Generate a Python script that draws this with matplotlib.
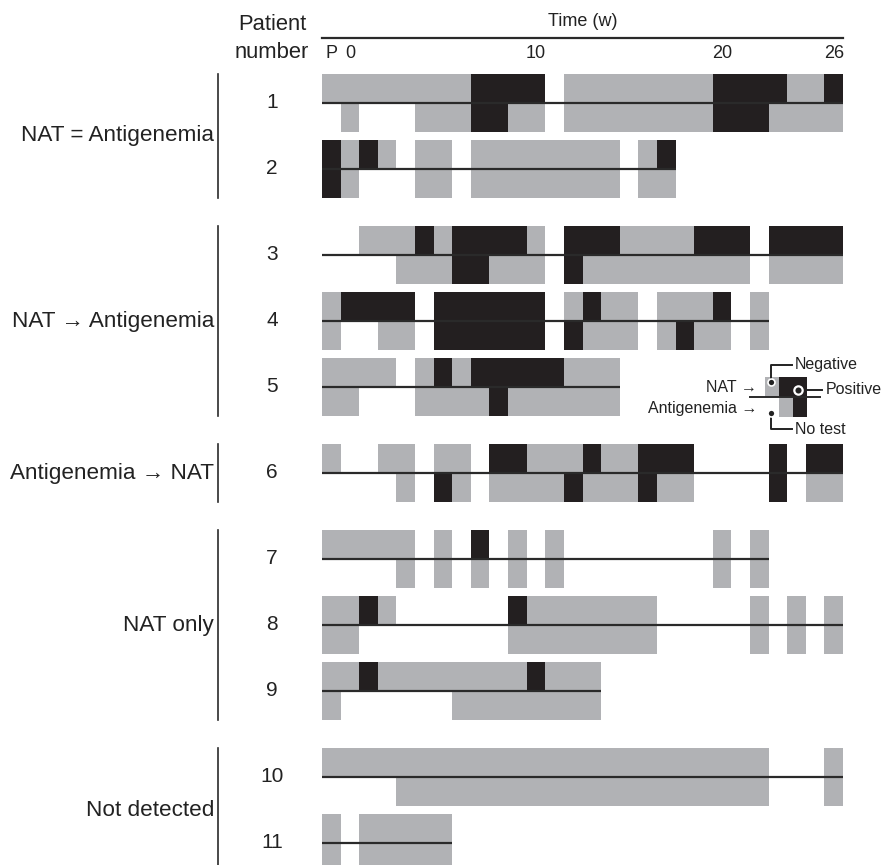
import matplotlib
matplotlib.use("Agg")
import matplotlib.pyplot as plt

plt.rcParams["font.family"] = ["Liberation Sans", "DejaVu Sans"]

# Daten: ein Zeichen pro Woche (P, 0, 1, ..., 26)
# N = negativ, P = positiv, - = kein Test
weeks = ["P"] + [str(w) for w in range(27)]
tick_weeks = ["P", "0", "10", "20", "26"]

patients = ["1", "2", "3", "4", "5", "6", "7", "8", "9", "10", "11"]

nat = [
    "NNNNNNNNPPPP-NNNNNNNNPPPPNNP",
    "PNPN-NN-NNNNNNNN-NP---------",
    "--NNNPNPPPPN-PPPNNNNPPP-PPPP",
    "NPPPP-PPPPPP-NPNN-NNNP-N----",
    "NNNN-NPNPPPPPNNN------------",
    "N--NN-NN-PPNNNPNNPPP----P-PP",
    "NNNNN-N-P-N-N--------N-N----",
    "NNPN------PNNNNNNN-----N-N-N",
    "NNPNNNNNNNNPNNN-------------",
    "NNNNNNNNNNNNNNNNNNNNNNNN---N",
    "N-NNNNN---------------------",
]
antigen = [
    "-N---NNNPPNN-NNNNNNNNPPPNNNN",
    "PN---NN-NNNNNNNN-NN---------",
    "----NNNPPNNN-PNNNNNNNNN-NNNN",
    "N--NN-PPPPPP-PNNN-NPNN-N----",
    "NN---NNNNPNNNNNN------------",
    "----N-PN-NNNNPNNNPNN----P-NN",
    "----N-N-N-N-N--------N-N----",
    "NN--------NNNNNNNN-----N-N-N",
    "N------NNNNNNNN-------------",
    "----NNNNNNNNNNNNNNNNNNNN---N",
    "N-NNNNN---------------------",
]

groups = ["NAT = Antigenemia", "NAT \u2192 Antigenemia", "Antigenemia \u2192 NAT",
          "NAT only", "Not detected"]
group_sizes = [2, 3, 1, 3, 2]

colors = {"N": "#b1b2b5", "P": "#231f20"}

# Layout in Pixeln (Bild 886 x 865)
W, H = 886, 865
x_left, x_right = 322, 843
cell = (x_right - x_left) / len(weeks)
half = 29


def px2w(px):
    return -1.5 + (px - x_left) / cell


fig = plt.figure(figsize=(W / 100, H / 100), dpi=100)
ax = fig.add_axes([0, 0, 1, 1])
ax.set_xlim(px2w(0), px2w(W))
ax.set_ylim(H, 0)
ax.axis("off")

# Zeilenpositionen
centers = []
y = 103
for g, n in enumerate(group_sizes):
    for k in range(n):
        centers.append(y)
        y += 66
    y += 20

# Balken
for i, p in enumerate(patients):
    yc = centers[i]
    for row, y0 in ((nat[i], yc - half), (antigen[i], yc)):
        j = 0
        while j < len(row):
            k = j
            while k < len(row) and row[k] == row[j]:
                k += 1
            if row[j] in colors:
                ax.bar(j - 1.5, half, width=k - j, bottom=y0, align="edge",
                       color=colors[row[j]], linewidth=0)
            j = k
    last = max(max(j for j, c in enumerate(nat[i]) if c != "-"),
               max(j for j, c in enumerate(antigen[i]) if c != "-"))
    ax.plot([-1.5, last - 0.5], [yc, yc], color="#2a2a2a", lw=1.6,
            solid_capstyle="butt")
    ax.text(px2w(272), yc, p, ha="center", va="center", fontsize=15,
            color="#222222")

# Gruppen
start = 0
for g, n in zip(groups, group_sizes):
    ys = centers[start:start + n]
    ax.plot([px2w(218)] * 2, [ys[0] - half, ys[-1] + half], color="#2a2a2a",
            lw=1.2)
    ax.text(px2w(214), sum(ys) / n, g, ha="right", va="center",
            fontsize=16.2, color="#222222")
    start += n

# Zeitachse oben
ax.plot([-1.5, 26.5], [38, 38], color="#2a2a2a", lw=1.6)
ax.text(12.5, 22, "Time (w)", ha="center", va="center", fontsize=13,
        color="#222222")
for t in tick_weeks:
    ax.text(weeks.index(t) - 1, 53, t, ha="center", va="center",
            fontsize=13, color="#222222")
ax.text(px2w(272), 25, "Patient", ha="center", va="center", fontsize=15.8,
        color="#222222")
ax.text(px2w(272), 53, "number", ha="center", va="center", fontsize=15.8,
        color="#222222")

# Legende
lx = [765, 779, 793, 807]
leg_nat = "NPP"
leg_ant = "-NP"
for c in range(3):
    for code, y0 in ((leg_nat[c], 377), (leg_ant[c], 397)):
        if code in colors:
            ax.bar(px2w(lx[c]), 20, width=(lx[c + 1] - lx[c]) / cell,
                   bottom=y0, align="edge", color=colors[code], linewidth=0)
ax.plot([px2w(750), px2w(820)], [397, 397], color="#2a2a2a", lw=1.4)

lc = "#222222"
ax.plot([px2w(771), px2w(771), px2w(792)], [382, 365, 365], color=lc, lw=1.4)
ax.plot([px2w(798), px2w(822)], [390, 390], color=lc, lw=1.4)
ax.plot([px2w(771), px2w(771), px2w(792)], [413, 429, 429], color=lc, lw=1.4)
ax.plot(px2w(771), 382, "o", ms=5, mfc=lc, mec="white", mew=1.2)
ax.plot(px2w(798), 390, "o", ms=6, mfc=lc, mec="white", mew=1.6)
ax.plot(px2w(771), 413, "o", ms=5, mfc=lc, mec="white", mew=1.2)
ax.text(px2w(795), 365, "Negative", ha="left", va="center", fontsize=11.5,
        color=lc)
ax.text(px2w(826), 389, "Positive", ha="left", va="center", fontsize=11.5,
        color=lc)
ax.text(px2w(795), 430, "No test", ha="left", va="center", fontsize=11.5,
        color=lc)
ax.text(px2w(757), 388, "NAT \u2192", ha="right", va="center", fontsize=11.5,
        color=lc)
ax.text(px2w(757), 409, "Antigenemia \u2192", ha="right", va="center",
        fontsize=11.5, color=lc)

fig.savefig("out.png", dpi=100)
